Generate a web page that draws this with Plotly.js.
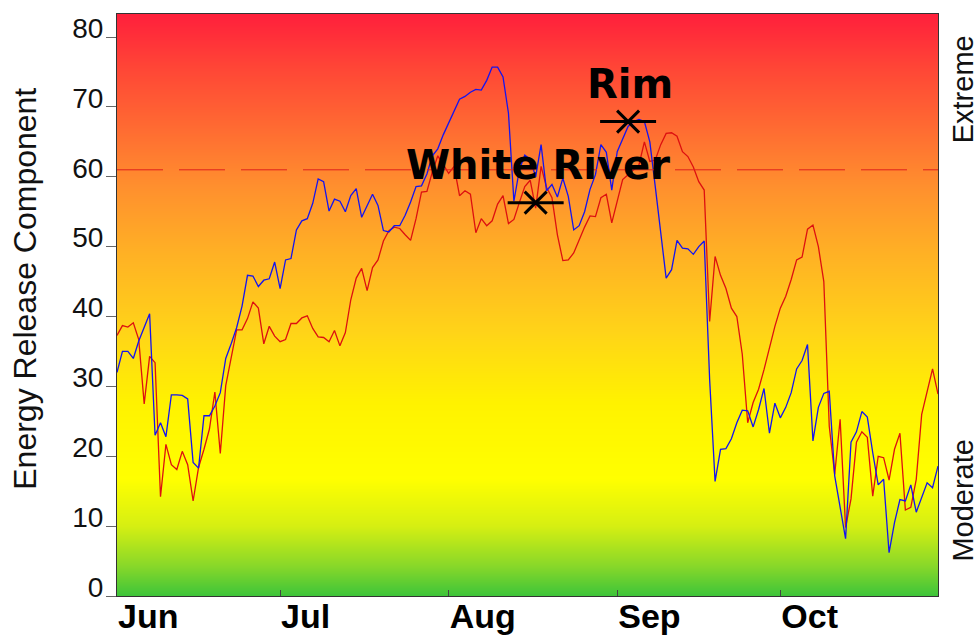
<!DOCTYPE html>
<html><head><meta charset="utf-8">
<script src="https://cdn.plot.ly/plotly-3.0.1.min.js"></script>
<style>html,body{margin:0;padding:0;background:#fff}#chart{width:978px;height:635px}</style>
</head><body><div id="chart"></div>
<script>
// ---- data ----
const startDate = '2013-06-01';
const endDate = '2013-10-30';
const blueERC = [32.0,35.0,35.0,34.0,36.5,38.5,40.4,23.0,24.8,22.8,
 28.8,28.8,28.7,28.2,19.1,18.3,25.8,25.8,27.2,29.1,
 34.0,36.1,38.4,41.5,45.9,45.8,44.3,45.2,45.4,47.8,
 44.0,48.1,48.3,52.4,53.7,54.0,56.2,59.7,59.3,55.1,
 56.8,56.5,55.0,57.3,58.3,54.2,55.9,57.5,55.9,52.3,
 52.1,53.0,53.0,54.5,56.4,58.6,58.7,60.4,63.0,64.0,
 66.0,67.7,69.3,71.1,71.5,72.1,72.5,72.4,73.8,75.7,
 75.7,74.3,69.1,56.5,61.0,63.1,62.5,60.0,64.6,58.0,
 58.9,57.1,59.8,57.2,52.4,53.0,55.0,58.2,60.3,64.6,
 63.5,58.1,63.6,65.3,67.2,67.9,68.2,67.9,65.0,58.6,
 52.0,45.5,46.7,50.9,49.8,49.7,48.9,50.0,50.8,31.0,
 16.4,21.0,21.1,22.5,24.8,26.6,26.5,24.2,26.7,29.7,
 23.3,27.6,25.5,27.0,29.1,32.5,33.7,36.0,22.2,27.0,
 29.0,29.3,17.2,12.9,8.2,22.0,23.5,26.4,25.6,20.5,
 15.9,16.7,6.2,10.5,13.8,13.6,15.9,12.0,14.1,16.2,
 15.5,18.6];
const redERC = [37.3,38.7,38.5,39.1,36.7,27.5,34.3,33.4,14.2,21.7,
 18.8,18.1,20.7,18.8,13.6,18.4,21.0,23.9,29.2,20.4,
 30.1,33.9,38.1,38.1,39.7,42.1,41.2,36.1,38.6,37.2,
 36.4,36.7,39.0,39.0,39.8,40.1,38.3,37.1,37.0,36.4,
 38.0,35.8,37.7,42.4,45.5,46.9,43.7,47.0,48.1,50.8,
 52.3,52.8,52.6,51.7,50.9,54.0,57.8,57.9,60.7,63.0,
 61.8,60.5,61.5,57.3,58.0,57.5,52.0,54.0,53.0,53.7,
 56.1,57.3,53.3,53.9,56.3,58.6,59.5,55.5,61.5,58.5,
 57.0,51.7,48.0,48.1,49.1,51.0,52.8,54.4,54.3,57.0,
 57.5,53.4,56.7,59.6,60.3,61.0,61.7,65.0,62.2,62.4,
 64.6,66.2,66.3,65.8,63.6,62.9,61.4,59.3,58.1,39.3,
 48.6,45.9,44.0,41.2,40.0,34.6,24.8,27.7,29.6,32.4,
 35.5,38.6,41.2,42.9,45.3,48.1,48.5,52.5,53.1,50.0,
 45.0,24.3,17.4,25.3,9.8,13.9,22.0,23.5,22.7,14.3,
 20.0,19.8,16.6,21.0,23.3,12.3,12.7,16.7,26.0,29.1,
 32.5,28.9];
const monthTicks = ['2013-06-01','2013-07-01','2013-08-01','2013-09-01','2013-10-01'];
const monthLabels = ['Jun','Jul','Aug','Sep','Oct'];
const yTicks = [0,10,20,30,40,50,60,70,80];
const thresholdERC = 61;
const fireNames = ['Rim','White River'];
const fireDates = ['2013-09-03','2013-08-17'];
const fireERC = [67.9, 56.3];
const yMax = 83.3;

// ---- helpers ----
function addDays(s, n){const d=new Date(s+'T00:00:00Z');d.setUTCDate(d.getUTCDate()+n);return d.toISOString().slice(0,10);}
const dates = blueERC.map((_, i) => addDays(startDate, i));

// background gradient (decoration)
const bgY = [], bgZ = [];
for (let v = 0; v <= 84; v += 1) { bgY.push(v); bgZ.push([v, v]); }
const bgScale = [
 [0.00,'#3cc43a'],[0.05,'#86d72a'],[0.12,'#d6ef12'],[0.20,'#ffff00'],
 [0.33,'#fff200'],[0.45,'#ffd418'],[0.58,'#ffb224'],[0.70,'#ff8f2e'],
 [0.80,'#ff6a32'],[0.90,'#ff4636'],[1.00,'#ff1c3c']];

const traces = [
 {type:'heatmap', x:[startDate,endDate], y:bgY, z:bgZ, zmin:0, zmax:84,
  colorscale:bgScale, zsmooth:'best', showscale:false, hoverinfo:'skip'},
 {type:'scatter', mode:'lines', x:dates, y:redERC, name:'Red',
  line:{color:'#dd1010', width:1.3}},
 {type:'scatter', mode:'lines', x:dates, y:blueERC, name:'Blue',
  line:{color:'#1414f0', width:1.3}},
 {type:'scatter', mode:'markers', x:fireDates, y:fireERC, hoverinfo:'skip',
  marker:{symbol:'line-ew-open', size:40, color:'#000', line:{color:'#000', width:3}}},
 {type:'scatter', mode:'markers', x:fireDates, y:fireERC, hoverinfo:'skip',
  marker:{symbol:'x-thin-open', size:22, color:'#000', line:{color:'#000', width:3}}}
];

const sideFont = {family:'Liberation Sans, Arial', size:29, color:'#111'};
const annotations = [
 {text:'Energy Release Component', textangle:-90, xref:'paper', yref:'paper',
  x:-0.112, y:0.528, xanchor:'center', yanchor:'middle', showarrow:false,
  font:{family:'Liberation Sans, Arial', size:32, color:'#111'}},
 {text:'Extreme', textangle:-90, xref:'paper', yref:'paper',
  x:1.030, y:0.87, xanchor:'center', yanchor:'middle', showarrow:false, font:sideFont},
 {text:'Moderate', textangle:-90, xref:'paper', yref:'paper',
  x:1.030, y:0.165, xanchor:'center', yanchor:'middle', showarrow:false, font:sideFont}
];
fireNames.forEach((n, i) => annotations.push({
  text:'<b>'+n+'</b>', x:fireDates[i], y:fireERC[i], xref:'x', yref:'y',
  xanchor:'center', yanchor:'middle',
  showarrow:false, yshift:38, xshift:2,
  font:{family:'DejaVu Sans', size:40, color:'#000'}}));

const layout = {
 width:978, height:635, showlegend:false,
 margin:{l:117, r:40, t:14, b:39},
 paper_bgcolor:'#fff', plot_bgcolor:'#fff',
 xaxis:{type:'date', range:[startDate, endDate], tickvals:monthTicks, ticktext:monthLabels,
  ticks:'inside', ticklen:6, tickcolor:'#444', ticklabelposition:'outside right',
  ticklabelstandoff:-10,
  tickfont:{family:'Liberation Sans, Arial', size:34, color:'#000', weight:'bold'},
  showline:true, linecolor:'#333', linewidth:1, mirror:true, showgrid:false, zeroline:false},
 yaxis:{range:[0, yMax], tickvals:yTicks, ticks:'outside', ticklen:10, tickcolor:'#666',
  ticklabelshift:-9, ticklabelstandoff:-3,
  tickfont:{family:'Liberation Sans, Arial', size:28, color:'#111'},
  showline:true, linecolor:'#333', linewidth:1, mirror:true, showgrid:false, zeroline:false},
 shapes:[{type:'line', xref:'paper', x0:0, x1:1, yref:'y', y0:thresholdERC, y1:thresholdERC,
  line:{color:'#e0201c', width:1, dash:'46px,16px'}, layer:'above'}],
 annotations:annotations
};
Plotly.newPlot('chart', traces, layout, {displayModeBar:false, staticPlot:true});
</script></body></html>
